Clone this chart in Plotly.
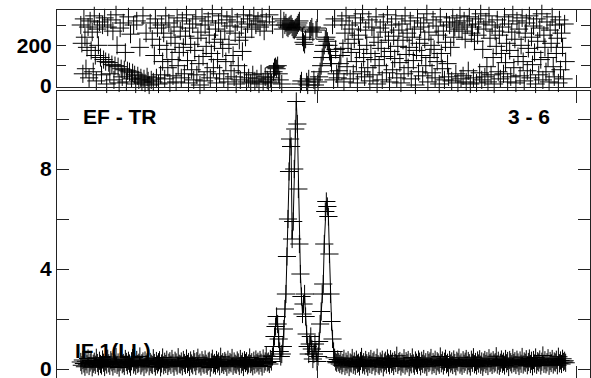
import plotly.graph_objects as go

# channel groups
chan_left = list(range(22, 203))
chan_peak = list(range(203, 270))
chan_right = list(range(270, 491))

amp_left = [0.28,0.15,0.36,0.22,0.09,0.31,0.19,0.42,0.12,0.26,
            0.34,0.07,0.21,0.29,0.17,0.45,0.24,0.11,0.33,0.20,
            0.14,0.38,0.25,0.08,0.30,0.18,0.41,0.23,0.13,0.35,
            0.27,0.10,0.32,0.21,0.48,0.16,0.26,0.06,0.29,0.37,
            0.19,0.24,0.12,0.40,0.28,0.15,0.33,0.22,0.09,0.31,
            0.44,0.18,0.27,0.13,0.36,0.20,0.25,0.50,0.14,0.23,
            0.30,0.08,0.34,0.19,0.26,0.39,0.11,0.28,0.21,0.16,
            0.43,0.24,0.10,0.32,0.18,0.27,0.35,0.07,0.22,0.46,
            0.15,0.29,0.20,0.37,0.12,0.25,0.31,0.17,0.40,0.23,
            0.09,0.33,0.26,0.14,0.47,0.21,0.18,0.30,0.11,0.36,
            0.24,0.16,0.42,0.20,0.28,0.08,0.34,0.22,0.15,0.39,
            0.27,0.12,0.31,0.45,0.19,0.25,0.10,0.35,0.23,0.17,
            0.38,0.21,0.13,0.29,0.33,0.06,0.26,0.41,0.18,0.24,
            0.14,0.36,0.22,0.30,0.11,0.49,0.20,0.27,0.16,0.32,
            0.25,0.09,0.37,0.18,0.28,0.23,0.44,0.13,0.30,0.21,
            0.17,0.34,0.26,0.12,0.40,0.19,0.29,0.08,0.35,0.24,
            0.31,0.15,0.22,0.46,0.20,0.27,0.11,0.33,0.18,0.38,
            0.23,0.29,0.14,0.36,0.25,0.10,0.42,0.21,0.30,0.52,
            0.26]
amp_peak = [0.3,0.2,0.4,0.3,0.5,0.9,1.3,1.7,2.1,1.8,
            1.2,0.7,0.5,0.6,0.9,1.6,2.4,3.0,4.5,6.0,
            7.9,9.2,8.9,5.2,5.9,8.0,9.6,10.7,9.8,7.2,
            5.0,3.8,2.9,2.2,2.6,3.0,2.1,1.4,0.9,0.6,
            1.0,1.3,0.8,0.4,0.6,1.0,0.7,0.3,0.5,1.1,
            1.8,2.3,3.0,3.4,5.0,6.3,6.7,6.5,6.1,4.6,
            3.0,1.9,1.2,0.7,0.45,0.3,0.25]
amp_right = [0.38,0.27,0.20,0.33,0.15,0.24,0.41,0.12,0.29,0.19,
             0.35,0.08,0.26,0.22,0.44,0.17,0.30,0.13,0.37,0.21,
             0.25,0.10,0.32,0.48,0.18,0.27,0.14,0.36,0.23,0.09,
             0.31,0.20,0.40,0.16,0.28,0.34,0.11,0.24,0.45,0.19,
             0.13,0.30,0.22,0.37,0.07,0.26,0.33,0.18,0.42,0.25,
             0.15,0.39,0.21,0.29,0.12,0.35,0.24,0.53,0.17,0.28,
             0.32,0.10,0.26,0.20,0.43,0.14,0.31,0.23,0.36,0.08,
             0.27,0.19,0.46,0.22,0.13,0.34,0.25,0.16,0.38,0.29,
             0.11,0.33,0.21,0.40,0.18,0.27,0.09,0.35,0.24,0.30,
             0.44,0.15,0.28,0.20,0.37,0.12,0.31,0.26,0.17,0.50,
             0.23,0.34,0.14,0.29,0.41,0.19,0.25,0.07,0.36,0.22,
             0.30,0.16,0.38,0.24,0.11,0.33,0.27,0.45,0.18,0.26,
             0.13,0.35,0.21,0.29,0.40,0.15,0.32,0.23,0.10,0.37,
             0.25,0.47,0.19,0.28,0.14,0.34,0.22,0.39,0.17,0.30,
             0.09,0.26,0.36,0.20,0.31,0.12,0.43,0.24,0.29,0.16,
             0.35,0.22,0.27,0.51,0.18,0.33,0.13,0.25,0.38,0.21,
             0.29,0.14,0.40,0.23,0.32,0.08,0.36,0.27,0.19,0.44,
             0.24,0.31,0.16,0.37,0.26,0.12,0.34,0.21,0.48,0.18,
             0.30,0.25,0.39,0.15,0.28,0.42,0.20,0.33,0.11,0.36,
             0.22,0.46,0.17,0.31,0.26,0.38,0.14,0.29,0.54,0.21,
             0.35,0.19,0.27,0.43,0.13,0.32,0.24,0.40,0.18,0.30,
             0.26,0.37,0.15,0.49,0.23,0.34,0.20,0.41,0.28,0.33,
             0.25]

phase_left = [300,210,60,330,240,85,190,290,40,320,
              175,265,70,345,150,25,280,200,315,140,
              55,300,130,335,120,10,290,115,60,325,
              105,270,30,100,350,200,95,15,285,85,
              45,310,80,165,20,75,340,70,255,35,
              65,300,55,10,320,50,30,190,40,20,
              345,35,15,260,45,25,5,310,30,230,
              20,150,330,40,285,10,200,55,300,120,
              260,35,345,180,90,310,15,240,130,50,
              290,210,20,335,100,165,270,40,320,190,
              60,245,350,125,15,285,205,80,305,30,
              175,330,55,235,110,5,265,340,145,25,
              300,195,70,320,250,40,160,355,90,215,
              280,15,130,310,60,230,345,185,35,270,
              120,325,20,205,295,75,340,150,45,260,
              10,315,100,225,30,290,170,350,65,240,
              20,305,40,330,15,280,55,345,25,300,
              35,320,10,290,60,340,20,270,45,315,
              30]
phase_peak = [20,350,40,15,300,70,90,95,85,100,
              60,30,330,10,280,320,300,310,290,285,
              295,300,305,290,280,275,285,290,300,310,
              320,10,25,240,215,205,230,20,5,35,
              270,280,290,265,30,5,275,285,20,45,
              70,100,140,170,200,230,240,220,200,170,
              140,110,300,30,330,180,60]
phase_right = [40,75,110,150,320,185,20,260,345,95,
               210,300,35,165,280,60,230,335,120,15,
               250,180,310,70,355,140,45,275,200,90,
               325,25,160,290,55,240,130,340,10,215,
               100,285,185,30,315,145,265,65,350,225,
               20,170,300,80,245,135,330,40,195,275,
               115,15,305,225,60,345,155,260,90,190,
               320,35,240,125,280,5,175,335,70,210,
               290,150,50,310,230,100,355,20,265,140,
               200,65,325,180,40,295,120,250,10,340,
               160,85,270,30,215,315,110,45,300,190,
               25,335,240,290,60,310,15,280,345,35,
               270,50,320,230,20,300,75,340,10,260,
               290,40,220,330,15,250,305,65,355,30,
               180,280,45,315,95,20,345,235,55,300,
               140,10,270,195,325,70,250,35,160,290,
               60,340,115,210,20,305,175,45,265,350,
               90,230,15,320,145,280,50,200,335,120,
               25,260,310,75,185,345,40,240,105,295,
               165,10,330,220,55,285,130,355,30,250,
               190,70,315,140,20,275,210,340,95,45,
               300,160,235,15,325,80,260,190,35,305,
               120]

y_ticks_phase = [0, 200]
y_ticks_amp = [0, 4, 8]
x_ticks = [0, 250, 500]

channels = chan_left + chan_peak + chan_right
amplitude = amp_left + amp_peak + amp_right
phase = phase_left + phase_peak + phase_right
assert len(channels) == len(amplitude) == len(phase)

FONT = "Liberation Sans, Arial, Helvetica, sans-serif"

fig = go.Figure()
fig.add_trace(go.Scatter(
    x=channels, y=amplitude, mode="lines+markers", xaxis="x", yaxis="y",
    line=dict(color="black", width=1),
    marker=dict(symbol="cross-thin", size=13, line=dict(color="black", width=1)),
    cliponaxis=False, showlegend=False))
fig.add_trace(go.Scatter(
    x=channels, y=phase, mode="markers", xaxis="x2", yaxis="y2",
    marker=dict(symbol="cross-thin", size=13, line=dict(color="black", width=1)),
    cliponaxis=False, showlegend=False))

H = 378
top_lo = (H - 87) / (H - 10)
bot_hi = (H - 91) / (H - 10)

ax_line = dict(showline=True, linecolor="#222", linewidth=1, mirror="ticks",
               ticks="inside", tickcolor="#222", showgrid=False, zeroline=False,
               automargin=False)
tick_font = dict(family=FONT, size=21, color="black", weight="bold")

fig.update_layout(
    width=591, height=H,
    margin=dict(l=57, r=1, t=10, b=0),
    paper_bgcolor="white", plot_bgcolor="white",
    xaxis=dict(domain=[0, 1], range=[-0.97, 513.5], tickvals=x_ticks,
               showticklabels=False, ticklen=12, anchor="y", **ax_line),
    yaxis=dict(domain=[0, bot_hi], range=[-0.36, 11.12], tickvals=y_ticks_amp,
               ticklen=12, minor=dict(dtick=2, ticks="inside", ticklen=12, tickcolor="#222"),
               anchor="x", tickfont=tick_font, ticklabeloverflow="allow", **ax_line),
    xaxis2=dict(domain=[0, 1], range=[-0.97, 513.5], tickvals=x_ticks,
                showticklabels=False, ticklen=12, anchor="y2", **ax_line),
    yaxis2=dict(domain=[top_lo, 1], range=[-4.9, 373.8], tickvals=y_ticks_phase,
                ticklen=9, minor=dict(dtick=100, ticks="inside", ticklen=9, tickcolor="#222"),
                anchor="x2", tickfont=tick_font, ticklabeloverflow="allow", **ax_line),
    annotations=[
        dict(text="EF - TR", xref="x", yref="y", x=22, y=10.1, xanchor="left", yanchor="middle",
             showarrow=False, font=dict(family=FONT, size=21, color="black", weight="bold")),
        dict(text="3 - 6", xref="x", yref="y", x=477, y=10.1, xanchor="right", yanchor="middle",
             showarrow=False, font=dict(family=FONT, size=21, color="black", weight="bold")),
        dict(text="IF 1(LL)", xref="x", yref="y", x=14, y=0.75, xanchor="left", yanchor="middle",
             showarrow=False, font=dict(family=FONT, size=21, color="black", weight="bold")),
    ],
)

fig.write_html("out.html", config={"displayModeBar": False},
               post_script="document.body.style.margin='0';document.body.style.overflow='hidden';")
